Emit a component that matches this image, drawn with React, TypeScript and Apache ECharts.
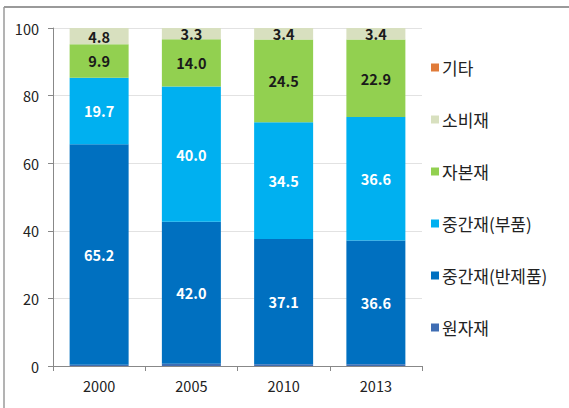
import React, { useEffect, useRef } from "react";
import * as echarts from "echarts";

const categories = ["2000", "2005", "2010", "2013"];
const rawMaterials = [0.4, 0.7, 0.5, 0.5];
const intermediateSemi = [65.2, 42.0, 37.1, 36.6];
const intermediateParts = [19.7, 40.0, 34.5, 36.6];
const capitalGoods = [9.9, 14.0, 24.5, 22.9];
const consumerGoods = [4.8, 3.3, 3.4, 3.4];
const others = [0, 0, 0, 0];

const seriesNames = ["원자재", "중간재(반제품)", "중간재(부품)", "자본재", "소비재", "기타"];
const seriesData = [rawMaterials, intermediateSemi, intermediateParts, capitalGoods, consumerGoods, others];
const colors = ["#3F6DB3", "#0070C0", "#00B0F0", "#92D050", "#D8E0BF", "#E07B39"];
const labelShown = [false, true, true, true, true, false];
const labelColors = ["#fff", "#ffffff", "#ffffff", "#1a1a1a", "#1a1a1a", "#000"];

const FONT = "'Noto Sans CJK KR', 'Noto Sans', sans-serif";

export default function App() {
  const ref = useRef<HTMLDivElement>(null);
  useEffect(() => {
    if (!ref.current) return;
    const chart = echarts.init(ref.current, undefined, { renderer: "svg" });
    chart.setOption({
      animation: false,
      backgroundColor: "#ffffff",
      textStyle: { fontFamily: FONT },
      grid: { left: 53, right: 147, top: 28, bottom: 42 },
      legend: {
        orient: "vertical",
        left: 426,
        top: 54,
        itemWidth: 8,
        itemHeight: 8,
        itemGap: 35,
        icon: "rect",
        data: [...seriesNames].reverse(),
        textStyle: { fontSize: 17, color: "#222", fontFamily: FONT, padding: [0, 0, 0, -2] },
      },
      xAxis: {
        type: "category",
        data: categories,
        axisLine: { lineStyle: { color: "#888", width: 1 } },
        axisTick: { show: true, alignWithLabel: false, length: 5, lineStyle: { color: "#888" } },
        axisLabel: { fontSize: 14.5, color: "#222", margin: 12, fontFamily: FONT },
      },
      yAxis: {
        type: "value",
        min: 0,
        max: 100,
        interval: 20,
        axisLine: { show: true, lineStyle: { color: "#888", width: 1 } },
        axisTick: { show: true, length: 5, lineStyle: { color: "#888" } },
        axisLabel: { fontSize: 14.5, color: "#222", margin: 14, fontFamily: FONT },
        splitLine: { show: true, lineStyle: { color: "#e2e2e2", width: 1 } },
      },
      series: seriesNames.map((name, i) => ({
        name,
        type: "bar",
        stack: "total",
        barWidth: 59,
        data: seriesData[i],
        itemStyle: { color: colors[i] },
        label: {
          show: labelShown[i],
          position: "inside",
          formatter: (p: any) => Number(p.value).toFixed(1),
          color: labelColors[i],
          fontSize: 14.5,
          fontWeight: 600,
          fontFamily: FONT,
        },
      })),
      graphic: [
        { type: "line", shape: { x1: 4, y1: 7, x2: 569, y2: 7 }, style: { stroke: "#9a9a9a", lineWidth: 2 } },
        { type: "line", shape: { x1: 4, y1: 7, x2: 4, y2: 408 }, style: { stroke: "#9a9a9a", lineWidth: 1.5 } },
      ],
    });
    return () => chart.dispose();
  }, []);
  return <div ref={ref} style={{ width: 569, height: 408, position: "absolute", left: 0, top: 0 }} />;
}
